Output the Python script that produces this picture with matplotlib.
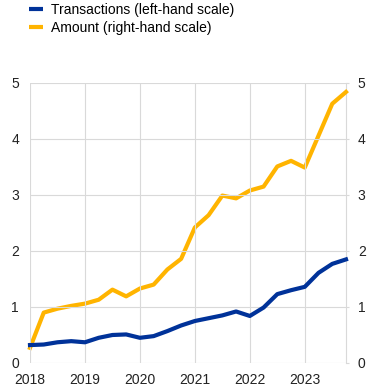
import matplotlib.pyplot as plt
from matplotlib.lines import Line2D

plt.rcParams['font.family'] = ['Liberation Sans', 'DejaVu Sans']

# Quarterly data, 2018 Q1 - 2023 Q4
years = ['2018', '2019', '2020', '2021', '2022', '2023']
transactions = [0.32, 0.33, 0.37, 0.39, 0.37, 0.45, 0.50, 0.51, 0.45, 0.48, 0.57, 0.67,
                0.75, 0.80, 0.85, 0.92, 0.84, 0.99, 1.23, 1.30, 1.36, 1.61, 1.77, 1.85]
amount = [0.27, 0.90, 0.97, 1.02, 1.06, 1.13, 1.31, 1.19, 1.33, 1.40, 1.67, 1.86,
          2.42, 2.64, 2.99, 2.94, 3.08, 3.15, 3.51, 3.61, 3.49, 4.06, 4.63, 4.84]

blue = '#003299'
yellow = '#ffb400'
grid_c = '#d9d9d9'

fig = plt.figure(figsize=(3.67, 3.88), dpi=100)
ax = fig.add_axes([30 / 367, 1 - 363 / 388, 316 / 367, 280 / 388])
ax2 = ax.twinx()

x = list(range(len(transactions)))
ax2.plot(x, amount, color=yellow, lw=3, clip_on=False, zorder=3)
ax.plot(x, transactions, color=blue, lw=3, clip_on=False, zorder=3)
ax.set_zorder(ax2.get_zorder() + 1)
ax.patch.set_visible(False)

for a in (ax, ax2):
    a.set_ylim(0, 5)
    a.set_xlim(0, 23)
    a.set_yticks(range(6))
    for s in a.spines.values():
        s.set_visible(False)

ax.set_xticks(range(0, 24, 4))
ax.set_xticklabels(years)
ax.grid(True, color=grid_c, lw=0.8)
ax.set_axisbelow(True)
ax.tick_params(axis='both', length=0, labelsize=10, colors='#222222')
ax.tick_params(axis='y', pad=8)
ax.tick_params(axis='x', pad=7)

ax2.spines['right'].set_visible(True)
ax2.spines['right'].set_color(grid_c)
ax2.spines['right'].set_linewidth(0.8)
ax2.tick_params(axis='y', length=2.5, width=0.8, color=grid_c, labelsize=10,
                labelcolor='#222222', pad=6)

handles = [Line2D([], [], color=blue, lw=3, solid_capstyle='butt'),
           Line2D([], [], color=yellow, lw=3, solid_capstyle='butt')]
fig.legend(handles, ['Transactions (left-hand scale)', 'Amount (right-hand scale)'],
           loc='upper left', bbox_to_anchor=(26 / 367, 1.0), frameon=False,
           fontsize=10, handlelength=1.0, handletextpad=0.6, labelspacing=0.3,
           borderpad=0.2, borderaxespad=0)

fig.savefig('out.png', dpi=100)
